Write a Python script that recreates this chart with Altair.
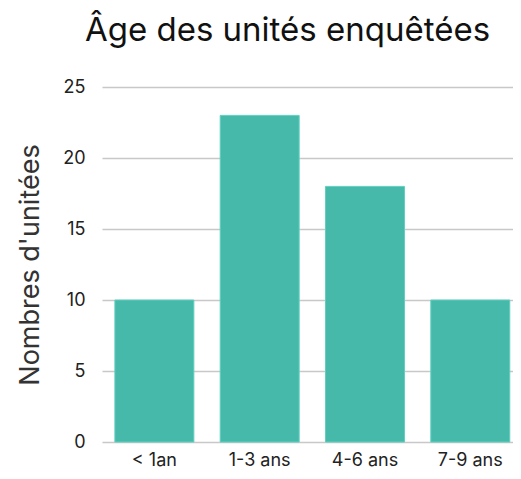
import altair as alt
import pandas as pd

categories = ["< 1an", "1-3 ans", "4-6 ans", "7-9 ans"]
values = [10, 23, 18, 10]

df = pd.DataFrame({"age": categories, "n": values})

FONT = "Inter"

chart = alt.Chart(df).mark_bar(color="#47B9AA", stroke="#5fd0c0", strokeWidth=1).encode(
    x=alt.X("age:N", sort=categories, title=None,
            scale=alt.Scale(paddingInner=0.25, paddingOuter=0.0765, align=0.8),
            axis=alt.Axis(labelAngle=0, labelFontSize=18, labelColor="#222", labelPadding=9,
                          ticks=False, domain=False, labelFont=FONT)),
    y=alt.Y("n:Q", title="Nombres d'unitées",
            scale=alt.Scale(domain=[0, 25]),
            axis=alt.Axis(values=[0, 5, 10, 15, 20, 25], labelFontSize=18, labelColor="#222",
                          labelPadding=17, ticks=False, domain=False, gridColor="#c8c8c8",
                          gridWidth=1.5, titleFontSize=27, titleFontWeight="normal",
                          titleColor="#333", titlePadding=18, labelFont=FONT, titleFont=FONT)),
).properties(
    width=411,
    height=355,
    title=alt.TitleParams("Âge des unités enquêtées", fontSize=33, fontWeight="normal",
                          color="#111", font=FONT, anchor="middle", dx=-20, offset=30),
    autosize=alt.AutoSizeParams(type="none"),
    padding={"left": 94, "top": 79, "right": 0, "bottom": 29},
).configure_view(stroke=None)

chart.save("out.html", embed_options={"renderer": "svg", "actions": False})
